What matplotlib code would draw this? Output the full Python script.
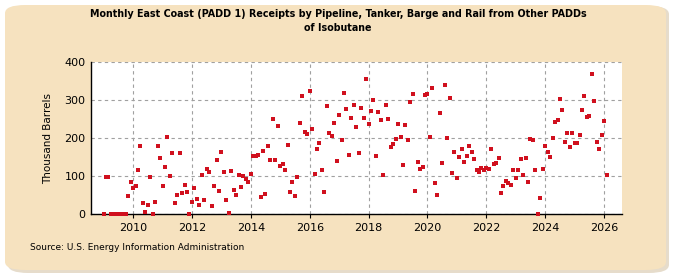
import matplotlib
matplotlib.use("Agg")
import matplotlib.pyplot as plt
from matplotlib.patches import FancyBboxPatch
import pandas as pd

title = "Monthly East Coast (PADD 1) Receipts by Pipeline, Tanker, Barge and Rail from Other PADDs\nof Isobutane"
y_label = "Thousand Barrels"
source = "Source: U.S. Energy Information Administration"
start_month = "2009-01"
values = [
    0, 98, 98, 0, 0, 0, 0, 0, 0, 0, 48, 85,
    69, 74, 117, 179, 29, 5, 25, 98, 1, 32, 179, 148,
    75, 125, 203, 101, 161, 30, 51, 161, 54, 77, 58, 0,
    32, 69, 40, 25, 103, 38, 119, 111, 22, 75, 143, 61,
    164, 111, 38, 3, 114, 64, 51, 103, 72, 101, 93, 85,
    106, 153, 153, 156, 46, 167, 53, 180, 143, 251, 143, 232,
    127, 132, 117, 182, 59, 85, 48, 98, 240, 311, 217, 211,
    324, 224, 106, 172, 188, 117, 59, 285, 214, 206, 240, 140,
    261, 196, 319, 277, 156, 253, 288, 230, 161, 280, 253, 356,
    238, 272, 301, 153, 269, 248, 103, 288, 251, 177, 185, 198,
    238, 203, 130, 235, 196, 295, 317, 61, 138, 119, 125, 313,
    317, 203, 332, 82, 51, 267, 135, 340, 201, 306, 109, 164,
    96, 151, 172, 138, 153, 180, 164, 146, 117, 111, 122, 117,
    122, 119, 172, 132, 135, 148, 56, 74, 88, 82, 77, 117,
    96, 117, 146, 103, 148, 85, 198, 196, 117, 0, 43, 119,
    180, 164, 151, 201, 243, 248, 303, 275, 190, 214, 177, 214,
    188, 188, 209, 275, 311, 256, 259, 369, 298, 190, 172, 209,
    246, 103,
]
y_ticks = [0, 100, 200, 300, 400]
x_tick_years = [2010, 2012, 2014, 2016, 2018, 2020, 2022, 2024, 2026]

dates = pd.date_range(start_month, periods=len(values), freq="MS")

W, H = 675, 275
fig = plt.figure(figsize=(W / 100, H / 100), dpi=100)
fig.patch.set_facecolor("white")

# beige rounded panel with soft shadow
shadow = FancyBboxPatch((8 / W, 2 / H), (W - 14) / W, (H - 8) / H,
                        boxstyle="round,pad=0,rounding_size=0.03",
                        transform=fig.transFigure, facecolor="#e6dccb",
                        edgecolor="none", zorder=-2)
panel = FancyBboxPatch((5 / W, 5 / H), (W - 14) / W, (H - 10) / H,
                       boxstyle="round,pad=0,rounding_size=0.03",
                       transform=fig.transFigure, facecolor="#F6E2BF",
                       edgecolor="none", zorder=-1)
fig.patches.extend([shadow, panel])

left, right, top, bottom = 91, 622, 62, 214
ax = fig.add_axes([left / W, 1 - bottom / H, (right - left) / W, (bottom - top) / H])
ax.set_zorder(2)
ax.set_facecolor("white")

ax.plot(dates, values, linestyle="none", marker="s", markersize=3.4,
        color="#D0101E", markeredgewidth=0, clip_on=False, zorder=5)

ax.set_ylim(0, 400)
ax.set_yticks(y_ticks)
ax.set_xlim(pd.Timestamp("2008-07-28"), pd.Timestamp("2026-08-10"))
ax.set_xticks([pd.Timestamp(f"{y}-01-01") for y in x_tick_years])
ax.set_xticklabels([str(y) for y in x_tick_years])

ax.grid(True, color="#a0a0a0", linestyle=(0, (3, 3)), linewidth=0.8)
ax.set_axisbelow(True)
for s in ["top", "right"]:
    ax.spines[s].set_visible(False)
for s in ["left", "bottom"]:
    ax.spines[s].set_color("black")
    ax.spines[s].set_linewidth(1.0)
ax.tick_params(axis="both", labelsize=8, length=3, colors="black", width=0.8)
ax.tick_params(axis="y", length=0, pad=4)

ax.set_ylabel(y_label, fontsize=7.5, labelpad=8)

fig.text(338 / W, 1 - 21 / H, title, ha="center", va="center",
         fontsize=7.7, fontweight="bold", linespacing=1.5,
         family="DejaVu Sans", fontstretch="condensed", zorder=3)
fig.text(30 / W, 1 - 248 / H, source, ha="left", va="center", fontsize=6.5, zorder=3)

fig.savefig("out.png", dpi=100, facecolor=fig.get_facecolor())
